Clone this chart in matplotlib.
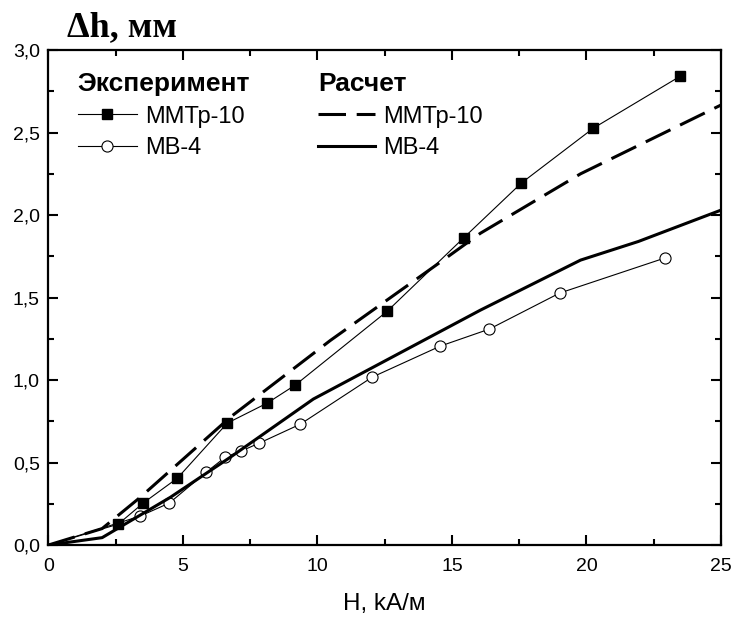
"""Elongation of magnetic elastomer samples versus field strength."""
import matplotlib.pyplot as plt
from matplotlib.ticker import FuncFormatter, MultipleLocator

plt.rcParams["font.family"] = ["Liberation Sans", "DejaVu Sans"]

# Experiment, ММТр-10
h_mmtr_exp = [0.0, 2.60, 3.53, 4.80, 6.65, 8.14, 9.18, 12.60, 15.43, 17.58, 20.26, 23.49]
dh_mmtr_exp = [0.0, 0.127, 0.255, 0.406, 0.739, 0.861, 0.970, 1.418, 1.861, 2.194, 2.527, 2.842]

# Experiment, МВ-4
h_mb_exp = [0.0, 3.42, 4.50, 5.87, 6.58, 7.17, 7.84, 9.37, 12.04, 14.57, 16.39, 19.00, 22.90]
dh_mb_exp = [0.0, 0.176, 0.255, 0.442, 0.533, 0.570, 0.618, 0.733, 1.018, 1.206, 1.309, 1.527, 1.739]

# Calculation, ММТр-10
h_mmtr_calc = [0.0, 2.0, 3.42, 6.77, 10.48, 14.57, 16.06, 19.78, 25.0]
dh_mmtr_calc = [0.0, 0.10, 0.29, 0.776, 1.24, 1.715, 1.89, 2.25, 2.667]

# Calculation, МВ-4
h_mb_calc = [0.0, 2.0, 4.54, 6.77, 9.85, 16.06, 19.78, 21.93, 25.0]
dh_mb_calc = [0.0, 0.045, 0.29, 0.533, 0.885, 1.424, 1.727, 1.84, 2.03]

fig = plt.figure(figsize=(7.32, 6.18), dpi=100)
ax = fig.add_axes([0.066, 0.118, 0.919, 0.801])

l1, = ax.plot(h_mmtr_exp, dh_mmtr_exp, color="black", lw=0.8, marker="s",
              markersize=6.5, markevery=range(1, len(h_mmtr_exp)))
l2, = ax.plot(h_mb_exp, dh_mb_exp, color="black", lw=0.8, marker="o",
              markersize=8, markerfacecolor="white", markeredgewidth=0.8,
              markevery=range(1, len(h_mb_exp)))
l3, = ax.plot(h_mmtr_calc, dh_mmtr_calc, color="black", lw=2.2, dashes=(9, 3.5))
l4, = ax.plot(h_mb_calc, dh_mb_calc, color="black", lw=2.2)

ax.set_xlim(0, 25)
ax.set_ylim(0, 3.0)
ax.xaxis.set_major_locator(MultipleLocator(5))
ax.xaxis.set_minor_locator(MultipleLocator(2.5))
ax.yaxis.set_major_locator(MultipleLocator(0.5))
ax.yaxis.set_minor_locator(MultipleLocator(0.25))
ax.yaxis.set_major_formatter(FuncFormatter(lambda v, p: f"{v:.1f}".replace(".", ",")))
ax.tick_params(which="both", direction="in", top=True, right=True, labelsize=14)
ax.tick_params(which="major", length=7, width=1.5, pad=6)
ax.tick_params(axis="x", which="major", pad=9)
ax.tick_params(which="minor", length=4, width=1.5)
for s in ax.spines.values():
    s.set_linewidth(1.6)

ax.set_xlabel("H, kA/м", fontsize=17.5, labelpad=13)
fig.text(0.092, 0.955, "Δh, мм", fontsize=26, fontweight="bold",
         family=["Liberation Serif", "DejaVu Serif"], va="center")

leg1 = ax.legend([l1, l2], ["ММТр-10", "МВ-4"], loc="upper left",
                 bbox_to_anchor=(0.012, 0.998), frameon=False, fontsize=17,
                 title="Эксперимент", title_fontproperties={"size": 19, "weight": "bold"},
                 alignment="left", handlelength=2.5, handletextpad=0.35, labelspacing=0.4)
ax.add_artist(leg1)
ax.legend([l3, l4], ["ММТр-10", "МВ-4"], loc="upper left",
          bbox_to_anchor=(0.37, 0.998), frameon=False, fontsize=17,
          title="Расчет", title_fontproperties={"size": 19, "weight": "bold"},
          alignment="left", handlelength=2.4, handletextpad=0.35, labelspacing=0.4)

fig.savefig("out.png", dpi=100)
